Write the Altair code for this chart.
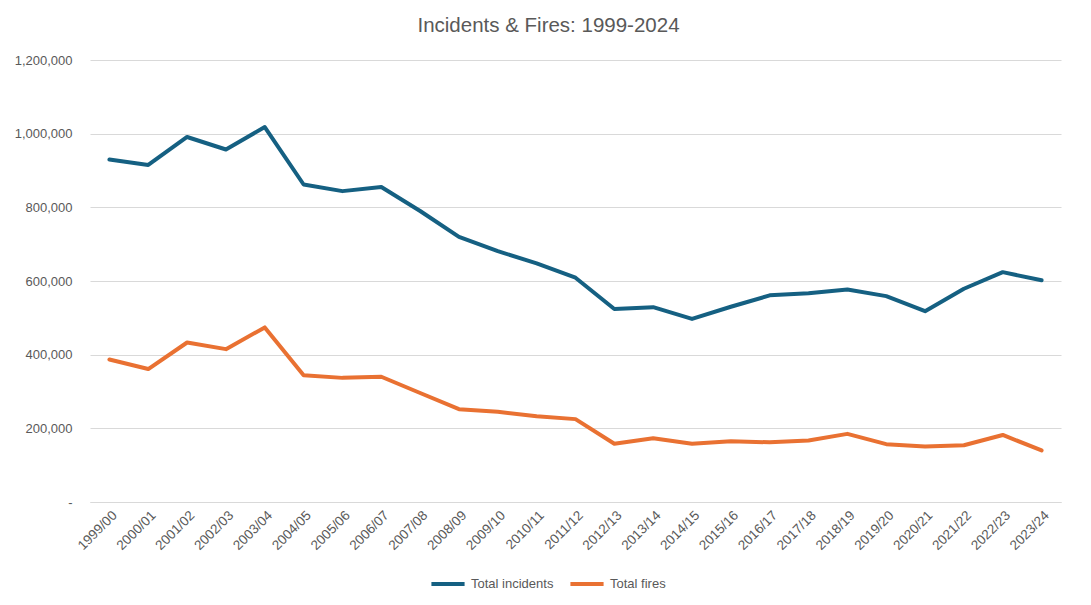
import altair as alt
import pandas as pd

years = ["1999/00", "2000/01", "2001/02", "2002/03", "2003/04", "2004/05", "2005/06",
         "2006/07", "2007/08", "2008/09", "2009/10", "2010/11", "2011/12", "2012/13",
         "2013/14", "2014/15", "2015/16", "2016/17", "2017/18", "2018/19", "2019/20",
         "2020/21", "2021/22", "2022/23", "2023/24"]

total_incidents = [930000, 915000, 991000, 957000, 1018000, 862000, 844000, 855000,
                   790000, 720000, 681000, 648000, 609000, 524000, 529000, 497000,
                   530000, 561000, 567000, 577000, 559000, 518000, 579000, 624000, 602000]

total_fires = [387000, 361000, 433000, 415000, 474000, 344000, 337000, 340000,
               296000, 252000, 245000, 233000, 225000, 158000, 173000, 158000,
               165000, 162000, 167000, 185000, 157000, 151000, 154000, 182000, 140000]

series_names = ["Total incidents", "Total fires"]
series_colors = ["#156082", "#E97132"]

rows = []
for i, y in enumerate(years):
    rows.append({"year": y, "series": series_names[0], "value": total_incidents[i]})
    rows.append({"year": y, "series": series_names[1], "value": total_fires[i]})
df = pd.DataFrame(rows)

text_color = "#595959"
grid_color = "#D9D9D9"

chart = alt.Chart(df).mark_line(strokeWidth=4, strokeJoin="round", strokeCap="round").encode(
    x=alt.X("year:O", sort=years, title=None,
            scale=alt.Scale(type="point", padding=0.5),
            axis=alt.Axis(labelAngle=-45, labelFontSize=13.5, labelColor=text_color,
                          labelFont="Liberation Sans", ticks=False, domainColor=grid_color,
                          domainWidth=1, labelPadding=6, grid=False)),
    y=alt.Y("value:Q", title=None,
            scale=alt.Scale(domain=[0, 1200000], nice=False),
            axis=alt.Axis(values=[0, 200000, 400000, 600000, 800000, 1000000, 1200000],
                          labelExpr="datum.value == 0 ? '-' : format(datum.value, ',')",
                          labelFontSize=13, labelColor=text_color, labelFont="Liberation Sans",
                          labelPadding=18, ticks=False, domain=False,
                          gridColor=grid_color, gridWidth=1)),
    color=alt.Color("series:N", sort=series_names,
                    scale=alt.Scale(domain=series_names, range=series_colors),
                    legend=alt.Legend(title=None, orient="none", direction="horizontal",
                                      legendX=339, legendY=505,
                                      symbolType="stroke", symbolSize=1100,
                                      symbolStrokeWidth=4, labelFontSize=13,
                                      labelFont="Liberation Sans Narrow, Liberation Sans",
                                      labelColor=text_color, labelOffset=4,
                                      columnPadding=8)),
).properties(
    width=971,
    height=442,
    title=alt.TitleParams("Incidents & Fires: 1999-2024", fontSize=20.5, font="Liberation Sans",
                          fontWeight="normal", color=text_color, anchor="middle", offset=18,
                          dx=-27),
    autosize=alt.AutoSizeParams(type="none"),
    padding={"left": 82, "top": 52, "right": 4, "bottom": 90},
).configure_view(stroke=None)

chart.save("out.html", embed_options={"renderer": "svg", "actions": False})
